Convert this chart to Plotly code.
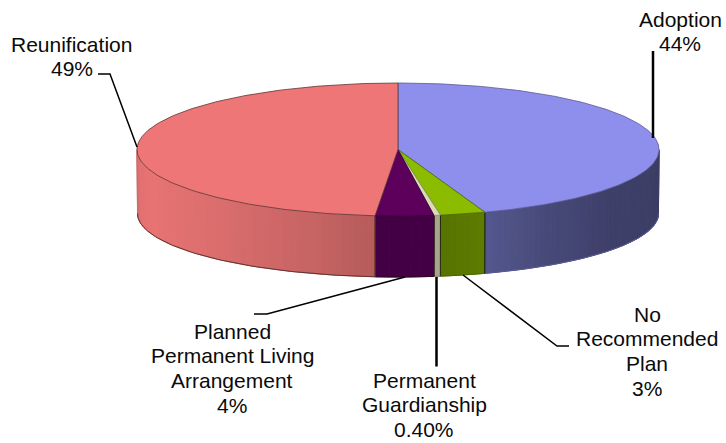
import numpy as np
import plotly.graph_objects as go

# ---- data ----
categories = ["Adoption", "No Recommended Plan", "Permanent Guardianship",
              "Planned Permanent Living Arrangement", "Reunification"]
values = [44.6, 2.8, 0.4, 3.6, 48.6]
label_lines = [["Adoption", "44%"], ["No", "Recommended", "Plan", "3%"],
               ["Permanent", "Guardianship", "0.40%"],
               ["Planned", "Permanent Living", "Arrangement", "4%"],
               ["Reunification", "49%"]]

# ---- style ----
top_colors = ["#8E8EEC", "#8CBC00", "#DADAB4", "#5C005C", "#EE7676"]
edge_colors = ["#5A5A98", "#4E6800", "#8A8A70", "#300030", "#5E3434"]
# wall colour stops: (angle in degrees clockwise from the back, colour)
wall_stops = [
    [(90, "#3E3F68"), (96, "#3B3D64"), (125, "#3D3F69"), (145, "#474977"), (161, "#54588F")],
    [(161, "#5E7C00"), (171, "#567200")],
    [(171, "#A6A68A"), (172, "#A6A68A")],
    [(172, "#440044"), (185, "#440044")],
    [(185, "#B65A5A"), (200, "#C86464"), (225, "#DC6E6E"), (250, "#E87373"),
     (264, "#E27070"), (270, "#C86C6C")],
]

# ---- geometry of the pie on the pixel-like axes ----
TOP = dict(cx=398, cy=149.5, a=261, b=66.5)
BOT = dict(cx=398, cy=213.5, a=260.5, b=63.5)


def pt(e, deg):
    t = np.radians(deg)
    return e["cx"] + e["a"] * np.sin(t), e["cy"] - e["b"] * np.cos(t)


def hex2rgb(h):
    return np.array([int(h[i:i + 2], 16) for i in (1, 3, 5)], float)


def stop_color(stops, deg):
    angs = [s[0] for s in stops]
    rgb = np.array([hex2rgb(s[1]) for s in stops])
    c = [np.interp(deg, angs, rgb[:, k]) for k in range(3)]
    return "rgb(%d,%d,%d)" % tuple(round(v) for v in c)


fig = go.Figure()


def poly(xs, ys, color, lw=0.0, line=None, name=None):
    fig.add_trace(go.Scatter(
        x=list(xs), y=list(ys), mode="lines", fill="toself", fillcolor=color,
        line=dict(color=line or color, width=lw), hoverinfo="skip",
        showlegend=False, name=name))


cum = np.cumsum([0] + values) * 3.6
starts, ends = cum[:-1], cum[1:]

# side walls (only the front half of the disc is visible)
for i, cat in enumerate(categories):
    a0, a1 = max(starts[i], 90), min(ends[i], 270)
    if a1 <= a0:
        continue
    n = max(1, int((a1 - a0) / 1.5))
    grid = np.linspace(a0, a1, n + 1)
    for g0, g1 in zip(grid[:-1], grid[1:]):
        arc = np.linspace(g0, g1, 4)
        xt, yt = pt(TOP, arc)
        xb, yb = pt(BOT, arc[::-1])
        color = stop_color(wall_stops[i], (g0 + g1) / 2)
        poly(np.r_[xt, xb, xt[0]], np.r_[yt, yb, yt[0]], color, lw=1.0)
    # outline of the wall's lower edge and dark seams between slices
    arc = np.linspace(a0, a1, 80)
    xb, yb = pt(BOT, arc)
    fig.add_trace(go.Scatter(x=xb, y=yb, mode="lines",
                             line=dict(color=edge_colors[i], width=1),
                             hoverinfo="skip", showlegend=False))
    for ang in (a0, a1):
        if 90 < ang < 270:
            xt0, yt0 = pt(TOP, ang)
            xb0, yb0 = pt(BOT, ang)
            fig.add_trace(go.Scatter(x=[xt0, xb0], y=[yt0, yb0], mode="lines",
                                     line=dict(color="#20200c", width=1),
                                     hoverinfo="skip", showlegend=False))

# top faces
for i, cat in enumerate(categories):
    arc = np.linspace(starts[i], ends[i], max(3, int(values[i] * 4)))
    xs, ys = pt(TOP, arc)
    poly(np.r_[TOP["cx"], xs, TOP["cx"]], np.r_[TOP["cy"], ys, TOP["cy"]],
         top_colors[i], lw=0.8, line=edge_colors[i], name=cat)

# leader lines
leaders = [
    ([653, 653], [51, 138], 2.5),
    ([463, 557, 569], [275, 346, 346], 1.5),
    ([436.5, 436.5], [277, 366.5], 2.5),
    ([405, 267, 254], [277, 314, 314], 1.5),
    ([98, 110, 137], [74, 74, 147], 1.5),
]
for lx, ly, w in leaders:
    fig.add_trace(go.Scatter(x=lx, y=ly, mode="lines", line=dict(color="black", width=w),
                             hoverinfo="skip", showlegend=False))

# labels: centre x and centre y of the first line, 24.7 px between lines
label_pos = [(680, 19), (647, 314), (424, 380), (232, 331), (71.5, 44)]
LINE_STEP = 24.7
for lines, (lx, ly) in zip(label_lines, label_pos):
    for k, txt in enumerate(lines):
        fig.add_annotation(x=lx, y=ly + k * LINE_STEP, text=txt, showarrow=False,
                           xanchor="center", yanchor="middle",
                           font=dict(family="Liberation Sans, Arial, sans-serif",
                                     size=21, color="#0a0a0a"))

fig.update_layout(
    width=726, height=443, margin=dict(l=0, r=0, t=0, b=0),
    paper_bgcolor="white", plot_bgcolor="white", showlegend=False,
    xaxis=dict(range=[0, 726], visible=False, fixedrange=True),
    yaxis=dict(range=[443, 0], visible=False, fixedrange=True),
)
fig.write_html("out.html", config=dict(displayModeBar=False),
               post_script="document.body.style.margin='0';")
